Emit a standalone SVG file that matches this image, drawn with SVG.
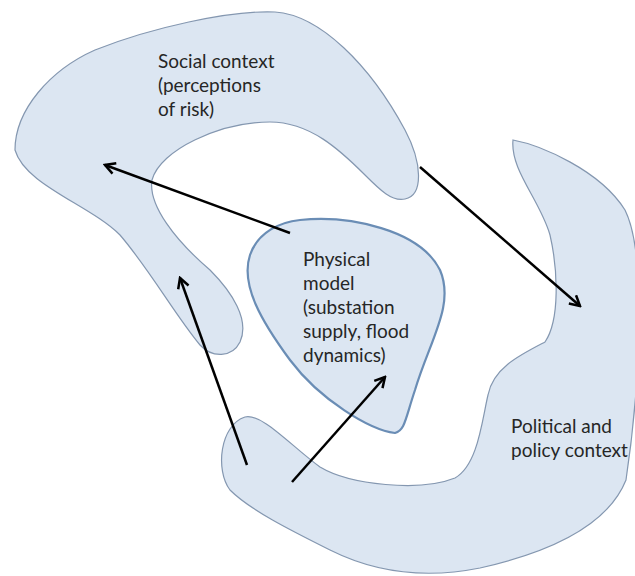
<svg xmlns="http://www.w3.org/2000/svg" width="635" height="576" viewBox="0 0 635 576">
<style>
.region{fill:#dce6f2;stroke:#8497b0;stroke-width:1.2}
.core{fill:#dce6f2;stroke:#6a8db5;stroke-width:2.2}
.lbl{font-family:Lato,"Open Sans","Liberation Sans",sans-serif;font-size:19px;fill:#262626}
.arrow{fill:none;stroke:#000;stroke-width:2.5;marker-end:url(#head)}
</style>
<defs>
<marker id="head" viewBox="0 0 14 14" refX="12" refY="7" markerWidth="14" markerHeight="14" markerUnits="userSpaceOnUse" orient="auto">
<path d="M2,1.5 L12,7 L2,12.5" fill="none" stroke="#000" stroke-width="2.5" stroke-linejoin="miter"/>
</marker>
</defs>
<rect width="635" height="576" fill="#fff"/>
<g id="political">
<path class="region" d="M513,140 C540,145 600,170 625,210 C640,240 640,300 638,360 C636,400 632,440 626,480 C610,520 560,550 480,568 C420,580 370,570 330,550 C290,530 250,510 230,490 C215,470 220,425 245,417 C262,413 290,445 320,467 C350,485 420,492 455,478 C478,465 482,420 488,395 C493,368 520,355 545,342 C560,320 558,270 550,235 C540,200 510,170 513,140 Z"/>
<text class="lbl" x="511" y="433">Political and</text>
<text class="lbl" x="511" y="457">policy context</text>
</g>
<g id="social">
<path class="region" d="M15,150 C15,110 50,70 95,50 C150,28 230,10 275,12 C320,15 370,65 405,130 C422,162 424,195 405,199 C392,202 380,190 365,175 C340,150 310,122 270,122 C220,122 160,150 152,180 C148,205 175,240 210,270 C232,292 250,320 240,342 C232,358 212,358 200,345 C175,315 150,270 120,235 C90,205 25,185 15,150 Z"/>
<text class="lbl" x="158" y="68">Social context</text>
<text class="lbl" x="158" y="92">(perceptions</text>
<text class="lbl" x="158" y="116">of risk)</text>
</g>
<g id="physical">
<path class="core" d="M300,220 C350,215 420,230 440,270 C455,305 430,340 415,390 C405,420 405,430 395,433 C370,430 320,400 290,360 C262,322 240,285 250,255 C258,232 280,222 300,220 Z"/>
<text class="lbl" x="303" y="266">Physical</text>
<text class="lbl" x="303" y="290">model</text>
<text class="lbl" x="303" y="314">(substation</text>
<text class="lbl" x="303" y="338">supply, flood</text>
<text class="lbl" x="303" y="362">dynamics)</text>
</g>
<g id="connectors">
<line class="arrow" x1="290" y1="233" x2="105" y2="165"/>
<line class="arrow" x1="420" y1="167" x2="580" y2="306"/>
<line class="arrow" x1="247" y1="465" x2="180" y2="278"/>
<line class="arrow" x1="292" y1="482" x2="385" y2="377"/>
</g>
</svg>
